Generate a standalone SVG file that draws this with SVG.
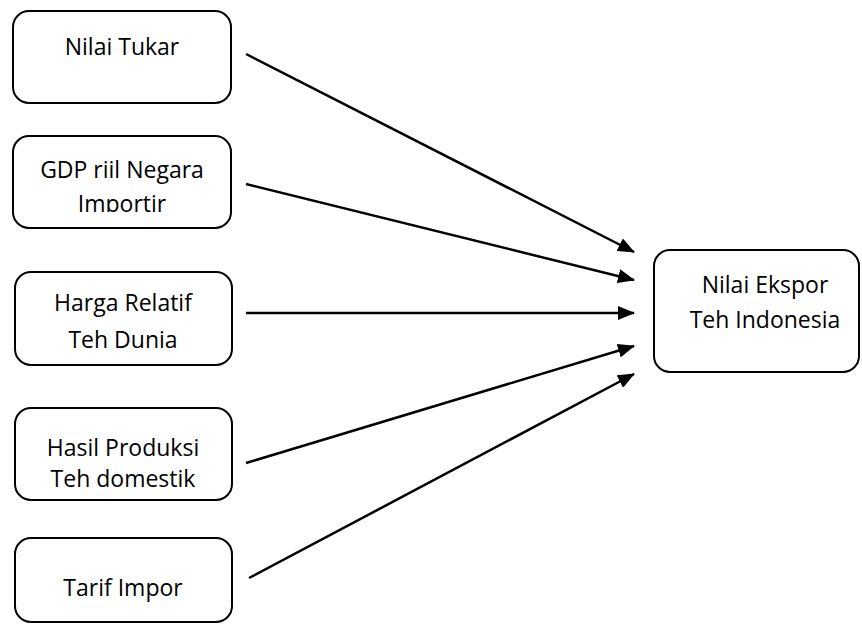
<svg xmlns="http://www.w3.org/2000/svg" width="862" height="624" viewBox="0 0 862 624">
<style>
.box{fill:#fff;stroke:#000;stroke-width:2}
.t{font-family:"Open Sans","Liberation Sans",sans-serif;font-size:23px;fill:#000;text-anchor:middle}
.c{stroke:#000;stroke-width:2.5;fill:none;marker-end:url(#ah)}
</style>
<defs>
<marker id="ah" markerUnits="userSpaceOnUse" markerWidth="18" markerHeight="14" refX="16" refY="7" orient="auto">
<path d="M0,0 L17,7 L0,14 z" fill="#000"/>
</marker>
<clipPath id="clip2"><rect x="13" y="136" width="218" height="76"/></clipPath>
</defs>
<rect width="862" height="624" fill="#fff"/>
<g id="n1"><rect class="box" x="13" y="11" width="218" height="92" rx="16"/><text class="t" x="122" y="55">Nilai Tukar</text></g>
<g id="n2"><rect class="box" x="13" y="136" width="218" height="92" rx="16"/><g clip-path="url(#clip2)"><text class="t" x="122" y="178">GDP riil Negara</text><text class="t" x="122" y="212">Importir</text></g></g>
<g id="n3"><rect class="box" x="15" y="272" width="217" height="93" rx="16"/><text class="t" x="123" y="311">Harga Relatif</text><text class="t" x="123" y="348">Teh Dunia</text></g>
<g id="n4"><rect class="box" x="15" y="408" width="217" height="92" rx="16"/><text class="t" x="123" y="456">Hasil Produksi</text><text class="t" x="123" y="487">Teh domestik</text></g>
<g id="n5"><rect class="box" x="15" y="538" width="217" height="84" rx="16"/><text class="t" x="123" y="596">Tarif Impor</text></g>
<g id="n6"><rect class="box" x="654" y="250" width="205" height="122" rx="16"/><text class="t" x="765" y="293">Nilai Ekspor</text><text class="t" x="765" y="328">Teh Indonesia</text></g>
<g id="connectors">
<line class="c" x1="246" y1="54" x2="634" y2="252"/>
<line class="c" x1="246" y1="184" x2="634" y2="280"/>
<line class="c" x1="246" y1="313" x2="634" y2="313"/>
<line class="c" x1="246" y1="463" x2="634" y2="346"/>
<line class="c" x1="249" y1="578" x2="634" y2="374"/>
</g>
</svg>
